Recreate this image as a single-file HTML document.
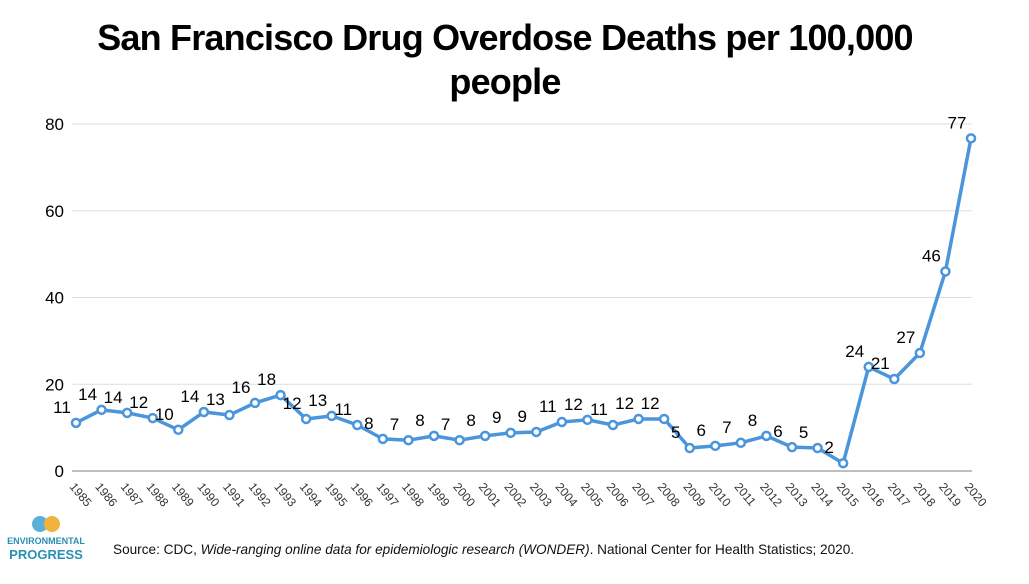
<!DOCTYPE html>
<html><head><meta charset="utf-8"><style>
body{margin:0;background:#fff;width:1029px;height:579px;overflow:hidden;font-family:"Liberation Sans",sans-serif}
</style></head><body>
<svg width="1029" height="579">
<text x="505" y="50" text-anchor="middle" font-size="36" font-weight="bold" letter-spacing="-0.8">San Francisco Drug Overdose Deaths per 100,000</text>
<text x="505" y="94" text-anchor="middle" font-size="36" font-weight="bold" letter-spacing="-0.8">people</text>
<g id="grid"></g><g id="xt"></g><g id="line"></g><g id="labels"></g>
<g>
<circle cx="40" cy="524" r="8" fill="#5bb0d8"/><circle cx="52" cy="524" r="8" fill="#f0b43c"/>
<text x="46" y="544" text-anchor="middle" font-size="9" font-weight="bold" fill="#2a8fb5">ENVIRONMENTAL</text>
<text x="46" y="559" text-anchor="middle" font-size="13" font-weight="bold" fill="#2a8fb5">PROGRESS</text>
</g>
<text x="113" y="554" font-size="13.6" fill="#111">Source: CDC, <tspan font-style="italic">Wide-ranging online data for epidemiologic research (WONDER)</tspan>. National Center for Health Statistics; 2020.</text>
</svg>
<script>
const years=[1985,1986,1987,1988,1989,1990,1991,1992,1993,1994,1995,1996,1997,1998,1999,2000,2001,2002,2003,2004,2005,2006,2007,2008,2009,2010,2011,2012,2013,2014,2015,2016,2017,2018,2019,2020];
const values=[11.1,14.1,13.4,12.2,9.5,13.6,12.9,15.7,17.5,12.0,12.7,10.6,7.4,7.1,8.1,7.1,8.1,8.8,9.0,11.3,11.8,10.6,12.0,12.0,5.3,5.8,6.5,8.1,5.5,5.3,1.8,24,21.2,27.2,46,76.7];
const labels=["11","14","14","12","10","14","13","16","18","12","13","11","8","7","8","7","8","9","9","11","12","11","12","12","5","6","7","8","6","5","2","24","21","27","46","77"];
const yTicks=[0,20,40,60,80];
const NS="http://www.w3.org/2000/svg";
const x0=76,x1=971,yb=471,yt=124;
const X=i=>x0+(x1-x0)*i/(years.length-1);
const Y=v=>yb-(yb-yt)*v/80;
function mk(t,a,p){const e=document.createElementNS(NS,t);for(const k in a)e.setAttribute(k,a[k]);p.appendChild(e);return e;}
const g=document.getElementById('grid');
yTicks.forEach(t=>{
 const l=mk('line',{x1:72,x2:972,y1:Y(t),y2:Y(t),stroke:t===0?'#aaa':'#ddd','stroke-width':t===0?1.5:1},g);
 
 
 const tx=mk('text',{x:64,y:Y(t)+6,'text-anchor':'end','font-size':17},g);tx.textContent=t;
 
 
});
const xt=document.getElementById('xt');
years.forEach((y,i)=>{
 const tx=mk('text',{x:X(i)-7,y:487,'font-size':12,fill:'#333',transform:`rotate(50 ${X(i)-7} 487)`},xt);tx.textContent=y;
 
 
});
const lg=document.getElementById('line');
const pl=mk('polyline',{points:values.map((v,i)=>X(i)+','+Y(v)).join(' '),fill:'none',stroke:'#4a95db','stroke-width':3.5,'stroke-linejoin':'round'},lg);


const lb=document.getElementById('labels');
values.forEach((v,i)=>{
 const c=mk('circle',{cx:X(i),cy:Y(v),r:4,fill:'#fff',stroke:'#4a95db','stroke-width':2.5},lg);
 
 
 const t=mk('text',{x:X(i)-14,y:Y(v)-10,'text-anchor':'middle','font-size':17},lb);t.textContent=labels[i];
 
 
});
</script>
</body></html>
